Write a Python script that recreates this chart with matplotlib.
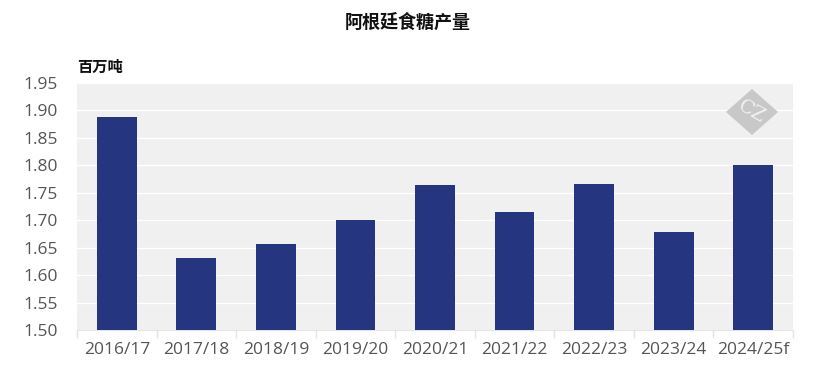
import matplotlib
matplotlib.use("Agg")
import matplotlib.pyplot as plt
from matplotlib.patches import Polygon

plt.rcParams['font.family'] = ['Open Sans', 'Noto Sans CJK SC', 'DejaVu Sans']

seasons = ["2016/17", "2017/18", "2018/19", "2019/20", "2020/21",
           "2021/22", "2022/23", "2023/24", "2024/25f"]
production = [1.888, 1.631, 1.657, 1.700, 1.764, 1.715, 1.766, 1.678, 1.800]
yticks = [1.50, 1.55, 1.60, 1.65, 1.70, 1.75, 1.80, 1.85, 1.90, 1.95]

fig = plt.figure(figsize=(8.15, 3.86), dpi=100)
ax = fig.add_axes([77 / 815, 56 / 386, 716 / 815, 247 / 386])
ax.set_facecolor("#f0f0f0")

x = list(range(len(seasons)))
ax.bar(x, production, width=0.5, color="#253580", zorder=3)

ax.set_ylim(1.50, 1.95)
ax.set_xlim(-0.5, len(seasons) - 0.5)
ax.set_yticks(yticks)
ax.set_yticklabels([f"{v:.2f}" for v in yticks], fontsize=12.5, color="#555555")
ax.yaxis.grid(True, color="white", linewidth=1.0, zorder=1)
ax.set_axisbelow(True)
ax.tick_params(axis="y", length=0, pad=14)

ax.set_xticks(x)
ax.set_xticklabels(seasons, fontsize=12.5, color="#555555")
ax.tick_params(axis="x", length=0, pad=9)
# boundary ticks between categories
ax.set_xticks([i - 0.5 for i in range(len(seasons) + 1)], minor=True)
ax.tick_params(axis="x", which="minor", length=6, color="#e4e4e4", width=1)

for s in ["top", "right", "left"]:
    ax.spines[s].set_visible(False)
ax.spines["bottom"].set_color("#e4e4e4")

fig.text(0.5, 1 - 22 / 386, "阿根廷食糖产量", ha="center", va="center",
         fontsize=13, fontweight="bold", color="#111111",
         family=['Noto Sans CJK SC', 'DejaVu Sans'])
fig.text(77 / 815, 1 - 67 / 386, "百万吨", ha="left", va="center",
         fontsize=11, fontweight="bold", color="#111111",
         family=['Noto Sans CJK SC', 'DejaVu Sans'])

# watermark
cx, cy, hw, hh = 752, 386 - 112, 26, 23
diamond = Polygon([(cx - hw, cy), (cx, cy + hh), (cx + hw, cy), (cx, cy - hh)],
                  closed=True, transform=None, facecolor="#c8c8c8",
                  edgecolor="none", zorder=5)
fig.patches.append(diamond)
fig.text(cx / 815, cy / 386, "CZ", ha="center", va="center", fontsize=14,
         family="DejaVu Serif", color="#f2f2f2", rotation=-30, zorder=6)

fig.savefig("out.png", dpi=100)
